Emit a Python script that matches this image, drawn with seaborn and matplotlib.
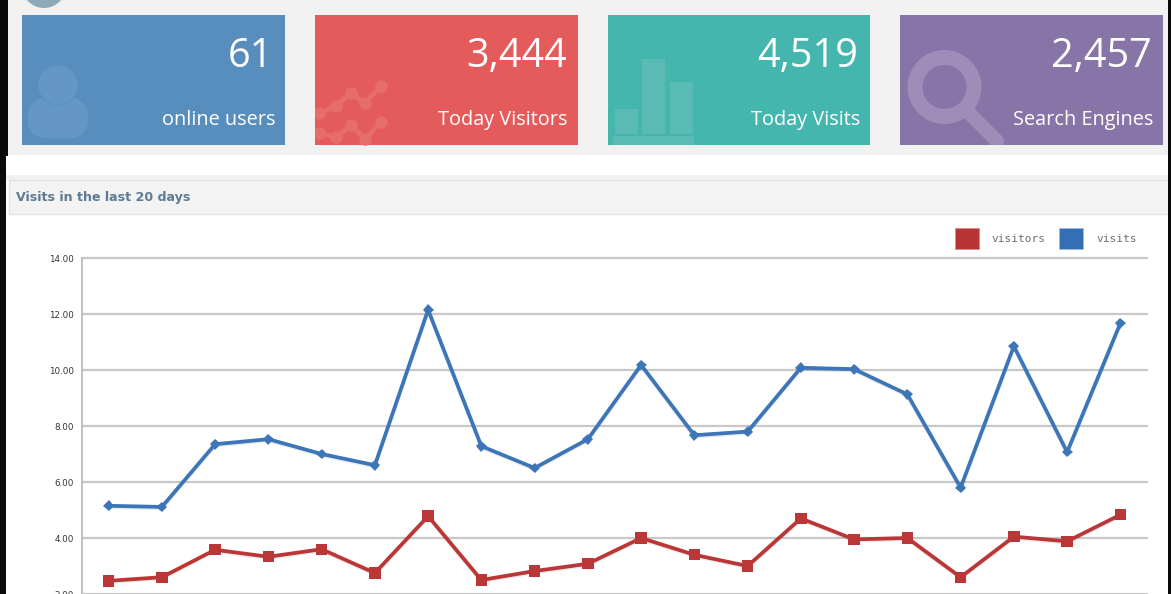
import matplotlib
matplotlib.use("Agg")
import matplotlib.patheffects as pe
import matplotlib.pyplot as plt
import pandas as pd
import seaborn as sns
from matplotlib.patches import Circle, FancyBboxPatch, Patch, Rectangle

days = list(range(1, 21))
visits = [5.15, 5.11, 7.35, 7.53, 7.0, 6.6, 12.15, 7.28, 6.5, 7.53,
          10.18, 7.67, 7.8, 10.08, 10.03, 9.13, 5.8, 10.85, 7.07, 11.67]
visitors = [2.47, 2.6, 3.58, 3.33, 3.6, 2.75, 4.78, 2.5, 2.82, 3.08,
            4.0, 3.4, 3.0, 4.7, 3.95, 4.0, 2.6, 4.05, 3.88, 4.83]
y_ticks = [2, 4, 6, 8, 10, 12, 14]

card_values = ["61", "3,444", "4,519", "2,457"]
card_labels = ["online users", "Today Visitors", "Today Visits", "Search Engines"]
card_colors = ["#578ebe", "#e35b5a", "#44b6ae", "#8775a7"]
card_lefts = [22, 315, 608, 900]
card_rights = [285, 578, 870, 1163]

W, H = 1171, 594
sns.set_theme(style="white")
plt.rcParams["font.family"] = ["Open Sans", "DejaVu Sans"]

fig = plt.figure(figsize=(W / 100, H / 100), dpi=100, facecolor="white")

# page furniture, in pixel coordinates
bg = fig.add_axes([0, 0, 1, 1])
bg.set_xlim(0, W)
bg.set_ylim(H, 0)
bg.axis("off")

bg.add_patch(Rectangle((8, 0), W - 8, 155, color="#f1f1f1", lw=0))
bg.add_patch(Rectangle((6, 175), W - 6, 5, color="#f1f1f1", lw=0))
bg.add_patch(Rectangle((9, 180), W - 9, 34, fc="#f3f3f3", ec="#e2e2e2", lw=1))
bg.add_patch(Rectangle((0, 0), 8, 156, color="#0a0a0a", lw=0))
bg.add_patch(Rectangle((0, 156), 5.5, H - 156, color="#0a0a0a", lw=0))
bg.add_patch(Rectangle((1168, 0), 3, H, color="#0a0a0a", lw=0))
bg.add_patch(Circle((44, -14), 22, color="#8fa9b8", lw=0))
bg.text(16, 198, "Visits in the last 20 days", fontsize=9.1, fontweight="bold",
        family="DejaVu Sans", color="#5f7a93", va="center")

for val, lab, col, x0, x1 in zip(card_values, card_labels, card_colors, card_lefts, card_rights):
    bg.add_patch(Rectangle((x0, 15), x1 - x0, 130, color=col, lw=0))
    bg.text(x1 - 11.5, 56.5, val, color="white", fontsize=28.5, ha="right", va="center", zorder=5)
    bg.text(x1 - 10, 120, lab, color="white", fontsize=14.3, ha="right", va="center", zorder=5)

# card icons
bg.add_patch(FancyBboxPatch((45, 115), 26, 6, boxstyle="round,pad=17.5,rounding_size=21",
                            fc="#6497c3", ec="none"))
bg.add_patch(Circle((58, 85), 20, fc="#6497c3", ec="#5a8fbd", lw=0.6))

for pts_y in [[113, 106, 93, 103, 86], [133, 137, 125, 139, 122]]:
    trend, = bg.plot([319, 336, 351, 365, 381], pts_y, color="#e76d6d", lw=3.4, marker="o", ms=9, mew=0)
    trend.set_clip_path(Rectangle((315, 15), 263, 130, transform=bg.transData))

for bx, by, bw, bh in [(615, 109, 23, 25), (642, 59, 23, 75), (670, 82, 23, 52), (613, 136, 81, 9)]:
    bg.add_patch(Rectangle((bx, by), bw, bh, color="#5abbb5", lw=0))

handle, = bg.plot([966, 997], [110, 141], color="#9d8db8", lw=10, solid_capstyle="round")
handle.set_clip_path(Rectangle((900, 15), 263, 130, transform=bg.transData))
bg.add_patch(Circle((944.5, 87), 29.5, fc="none", ec="#9d8db8", lw=10.8))

# chart: y=14 sits at pixel 258, y=2 at the bottom edge
ax = fig.add_axes([82 / W, 0, (1147 - 82) / W, (H - 258) / H])
ax.patch.set_alpha(0)

df = pd.DataFrame({
    "day": days * 2,
    "value": visitors + visits,
    "series": ["visitors"] * 20 + ["visits"] * 20,
})
sns.lineplot(data=df, x="day", y="value", hue="series", style="series", ax=ax,
             palette={"visitors": "#bb3636", "visits": "#3d76b8"},
             markers={"visitors": "s", "visits": "D"},
             dashes=False, linewidth=2.7, legend=False, clip_on=False)
for line, ms in zip(ax.get_lines(), [8.2, 5.5]):
    line.set_markersize(ms)
    line.set_markeredgewidth(0)
    line.set_path_effects([pe.SimpleLineShadow(offset=(0, -1), shadow_color="black", alpha=0.08),
                           pe.Normal()])

ax.set_xlim(0.5, 20.5)
ax.set_ylim(2, 14)
ax.set_xticks([])
ax.set_yticks(y_ticks)
ax.set_yticklabels([f"{t:.2f}" for t in y_ticks], fontsize=6.3, color="#333333", family="DejaVu Sans")
ax.tick_params(axis="y", length=0, pad=6)
ax.set_xlabel("")
ax.set_ylabel("")
ax.grid(axis="y", color="#c8c8c8", lw=1.6, clip_on=False)
ax.set_axisbelow(True)
for side in ["top", "right", "bottom"]:
    ax.spines[side].set_visible(False)
ax.spines["left"].set_color("#c0c0c0")
ax.spines["left"].set_linewidth(1.4)

handles = [Patch(fc="#b93535", ec="#dd8888", lw=0.6, label="visitors"),
           Patch(fc="#356eb3", ec="#9bbbe0", lw=0.6, label="visits")]
leg = ax.legend(handles=handles, ncol=2, loc="lower right", bbox_to_anchor=(0.9985, 1.0),
                frameon=False, handlelength=2.15, handleheight=2.5,
                handletextpad=1.15, columnspacing=1.25, borderaxespad=0.7, borderpad=0.1,
                prop={"family": "DejaVu Sans Mono", "size": 8})
for t in leg.get_texts():
    t.set_color("#6e6e6e")

fig.savefig("out.png", dpi=100)
